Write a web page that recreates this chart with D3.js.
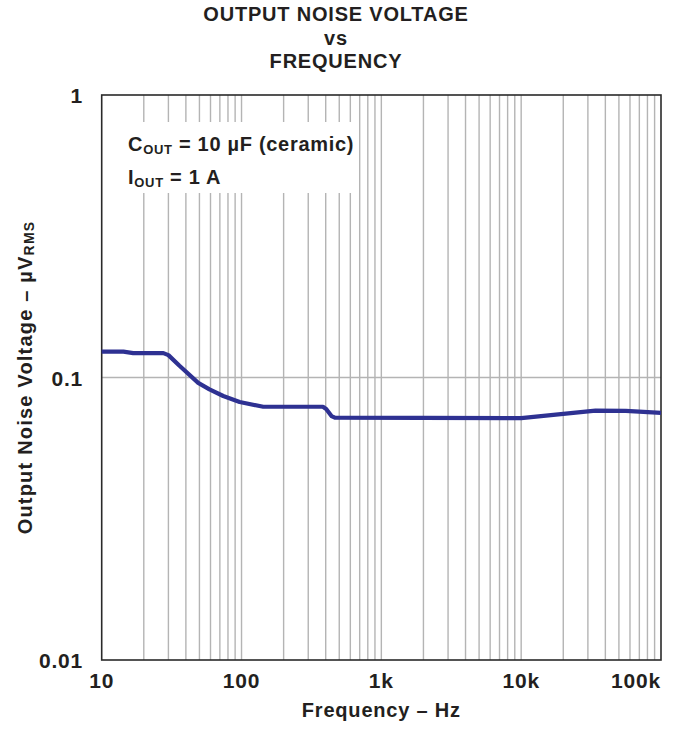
<!DOCTYPE html>
<html><head><meta charset="utf-8">
<script src="https://cdn.jsdelivr.net/npm/d3@7"></script>
<style>body{margin:0;background:#fff}svg{display:block;font-family:"Liberation Sans",Arial,sans-serif;font-weight:bold}</style>
</head><body><svg id="c" width="676" height="729"></svg>
<script>
const freq  = [10, 14.3, 16.8, 27.6, 30, 36, 49, 59, 74, 97, 143, 382, 403, 440, 465, 10000, 34000, 56000, 100000];
const noise = [0.1234, 0.1234, 0.122, 0.122, 0.120, 0.110, 0.0957, 0.0908, 0.086, 0.0819, 0.0788, 0.0788, 0.0774, 0.0730, 0.0721, 0.0718, 0.0763, 0.0762, 0.0749];
const xTicks = [10, 100, 1000, 10000, 100000];
const xTickLabels = ["10", "100", "1k", "10k", "100k"];
const yTicks = [0.01, 0.1, 1];
const yTickLabels = ["0.01", "0.1", "1"];
const titleLines = ["OUTPUT NOISE VOLTAGE", "vs", "FREQUENCY"];

const L = 101.7, R = 661, T = 95, B = 660;
const ink = "#231f20";
const svg = d3.select("#c");
const x = d3.scaleLog().domain([10, 100000]).range([L, R]);
const y = d3.scaleLog().domain([0.01, 1]).range([B, T]);

// minor grid
const gridX = [];
for (let d = 10; d < 100000; d *= 10) for (let k = 1; k <= 9; k++) if (!(d === 10 && k === 1)) gridX.push(d * k);
svg.append("g").selectAll("line").data(gridX).join("line")
  .attr("x1", d => x(d)).attr("x2", d => x(d)).attr("y1", T).attr("y2", B)
  .attr("stroke", "#b4b4b4").attr("stroke-width", 1.4);
svg.append("line").attr("x1", L).attr("x2", R).attr("y1", y(0.1)).attr("y2", y(0.1))
  .attr("stroke", "#b4b4b4").attr("stroke-width", 1.4);

// annotation box
svg.append("rect").attr("x", L + 1).attr("y", 122).attr("width", 256).attr("height", 71).attr("fill", "#fff");
const a1 = svg.append("text").attr("x", 128).attr("y", 151).attr("font-size", 20).attr("letter-spacing", 0.7).attr("fill", ink);
a1.append("tspan").text("C");
a1.append("tspan").attr("font-size", 13).attr("dy", 3).text("OUT");
a1.append("tspan").attr("dy", -3).text(" = 10 µF (ceramic)");
const a2 = svg.append("text").attr("x", 128).attr("y", 184).attr("font-size", 20).attr("letter-spacing", 0.7).attr("fill", ink);
a2.append("tspan").text("I");
a2.append("tspan").attr("font-size", 13).attr("dy", 3).text("OUT");
a2.append("tspan").attr("dy", -3).text(" = 1 A");

// frame
svg.append("rect").attr("x", L).attr("y", T).attr("width", R - L).attr("height", B - T)
  .attr("fill", "none").attr("stroke", "#2a2a2a").attr("stroke-width", 1.6);

// curve
const pts = freq.map((f, i) => [f, noise[i]]);
svg.append("path").datum(pts)
  .attr("d", d3.line().x(d => x(d[0])).y(d => y(d[1])))
  .attr("fill", "none").attr("stroke", "#2e3192").attr("stroke-width", 4.2)
  .attr("stroke-linejoin", "round");

// tick labels
svg.append("g").selectAll("text").data(xTicks).join("text")
  .attr("x", d => x(d)).attr("y", 688)
  .attr("text-anchor", (d, i) => i === xTicks.length - 1 ? "end" : "middle")
  .attr("font-size", 21).attr("letter-spacing", 0.8).attr("fill", ink)
  .text((d, i) => xTickLabels[i]);
svg.append("g").selectAll("text").data(yTicks).join("text")
  .attr("x", 83).attr("y", d => y(d) + 8)
  .attr("text-anchor", "end").attr("font-size", 21).attr("letter-spacing", 0.8).attr("fill", ink)
  .text((d, i) => yTickLabels[i]);

// titles
svg.append("g").selectAll("text").data(titleLines).join("text")
  .attr("x", 336).attr("y", (d, i) => [21, 45, 68][i])
  .attr("text-anchor", "middle").attr("font-size", 20).attr("letter-spacing", 0.8).attr("fill", ink)
  .text(d => d);

svg.append("text").attr("x", (L + R) / 2).attr("y", 717).attr("text-anchor", "middle")
  .attr("font-size", 20).attr("letter-spacing", 0.8).attr("fill", ink).text("Frequency – Hz");

const yt = svg.append("text").attr("transform", `translate(32,${(T + B) / 2}) rotate(-90)`)
  .attr("text-anchor", "middle").attr("font-size", 20).attr("letter-spacing", 1.2).attr("fill", ink);
yt.append("tspan").text("Output Noise Voltage – µV");
yt.append("tspan").attr("font-size", 14).attr("dy", 2).text("RMS");
</script></body></html>
